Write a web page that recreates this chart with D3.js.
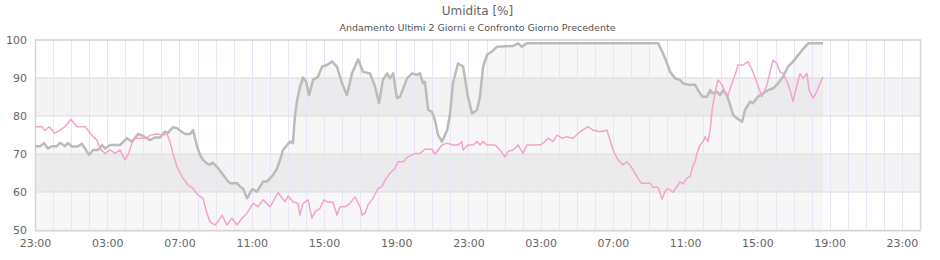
<!DOCTYPE html>
<html>
<head>
<meta charset="utf-8">
<script src="https://cdn.jsdelivr.net/npm/d3@7"></script>
<style>
  body { margin: 0; background: #fff; }
  svg { display: block; font-family: "DejaVu Sans", sans-serif; }
</style>
</head>
<body>
<svg id="chart" width="940" height="260"></svg>
<script>
// Hours since 23:00 of the first day, and humidity values (%)
const currentHours = [0, 0.28, 0.50, 0.72, 0.94, 1.21, 1.39, 1.66, 1.83, 2.05, 2.33, 2.60, 2.77, 2.99, 3.22, 3.49, 3.71, 3.88, 4.16, 4.71, 4.98, 5.09, 5.37, 5.71, 5.98, 6.37, 6.65, 6.92, 7.20, 7.36, 7.64, 7.86, 8.02, 8.31, 8.59, 8.75, 8.97, 9.14, 9.30, 9.52, 9.69, 9.85, 10.14, 10.35, 10.63, 10.80, 11.19, 11.35, 11.52, 11.74, 12.02, 12.29, 12.46, 12.63, 12.84, 13.02, 13.18, 13.40, 13.57, 13.73, 13.96, 14.12, 14.28, 14.39, 14.51, 14.67, 14.84, 15.01, 15.17, 15.40, 15.67, 15.90, 16.17, 16.45, 16.72, 17.00, 17.27, 17.55, 17.89, 18.16, 18.55, 18.83, 19.05, 19.26, 19.49, 19.65, 19.83, 20.04, 20.21, 20.60, 20.88, 21.15, 21.32, 21.48, 21.59, 21.77, 21.98, 22.14, 22.32, 22.53, 22.82, 22.98, 23.14, 23.42, 23.70, 23.97, 24.20, 24.47, 24.64, 24.81, 25.03, 25.31, 25.58, 26.47, 26.75, 26.96, 27.24, 34.50, 34.77, 35.00, 35.16, 35.44, 35.71, 35.88, 36.16, 36.55, 36.71, 36.94, 37.21, 37.38, 37.49, 37.76, 37.93, 38.10, 38.31, 38.49, 38.65, 38.87, 39.15, 39.31, 39.59, 39.75, 40.03, 40.31, 40.59, 40.87, 41.14, 41.42, 41.69, 41.97, 42.19, 42.47, 42.81, 43.63];
const currentValues = [72, 72, 72.8, 71.4, 72, 72, 72.9, 72, 72.8, 71.9, 71.9, 72.6, 71.4, 69.7, 71, 71, 72.3, 71.4, 72.3, 72.3, 73.6, 74.1, 73.2, 75.2, 74.7, 73.6, 74.3, 74.3, 75.8, 75.5, 77, 76.7, 76.1, 75.2, 75.2, 76.2, 72, 69.7, 68.4, 67.5, 67.1, 67.7, 66.2, 64.9, 63.1, 62.3, 62.3, 61.4, 60.9, 58.3, 60.7, 60.1, 61.4, 62.7, 62.7, 63.6, 64.4, 66.2, 68.4, 71, 72.3, 73.2, 72.8, 79.7, 84, 87.6, 90, 89, 85.4, 89.4, 90.2, 92.9, 93.3, 94.2, 92.9, 88.5, 85.4, 91.1, 94.8, 91.5, 91.1, 87.6, 83.3, 89.4, 91.1, 89.8, 91.1, 84.6, 85, 89.8, 91.1, 90.7, 91.1, 88.5, 88.9, 81.5, 81, 78.9, 74.9, 73.2, 76.2, 80.6, 88.5, 93.7, 92.9, 85, 80.6, 81.5, 85, 92.9, 96, 96.9, 98.1, 98.3, 99, 98.1, 99, 99, 96.4, 93.7, 91.5, 89.8, 89.4, 88.5, 88.1, 88.1, 86.7, 85, 85, 86.7, 85.9, 86.3, 85.4, 86.7, 85.4, 82.8, 80.2, 79.3, 78.4, 81.5, 83.7, 83.3, 85, 85.9, 86.7, 87.2, 88.5, 90.2, 92.9, 94.2, 95.5, 97.2, 99, 99];

const previousHours = [0, 0.39, 0.55, 0.78, 1.10, 1.39, 1.66, 1.99, 2.33, 2.77, 3.22, 3.43, 3.60, 3.88, 4.16, 4.43, 4.71, 4.98, 5.15, 5.37, 5.53, 6.20, 6.37, 6.76, 7.09, 7.31, 7.47, 7.64, 7.86, 8.14, 8.47, 8.75, 9.02, 9.30, 9.52, 9.69, 9.96, 10.14, 10.35, 10.63, 10.90, 11.19, 11.46, 11.74, 12.07, 12.34, 12.63, 13.02, 13.46, 13.84, 14.01, 14.28, 14.56, 14.67, 14.84, 15.12, 15.33, 15.51, 15.78, 16.00, 16.22, 16.50, 16.72, 16.89, 17.16, 17.44, 17.72, 18.00, 18.11, 18.27, 18.44, 18.71, 18.99, 19.21, 19.38, 19.65, 19.94, 20.10, 20.38, 20.65, 21.04, 21.32, 21.59, 21.98, 22.14, 22.53, 22.82, 23.14, 23.42, 23.64, 23.70, 23.97, 24.26, 24.47, 24.64, 24.81, 25.03, 25.47, 25.75, 26.02, 26.19, 26.47, 26.75, 27.02, 27.24, 27.96, 28.24, 28.40, 28.68, 28.90, 29.18, 29.45, 29.79, 30.18, 30.62, 30.89, 31.28, 31.67, 31.84, 32.00, 32.28, 32.56, 32.78, 33.06, 33.33, 33.56, 34.06, 34.22, 34.50, 34.72, 34.88, 35.05, 35.32, 35.55, 35.71, 35.88, 36.10, 36.27, 36.44, 36.55, 36.65, 36.82, 36.99, 37.10, 37.26, 37.38, 37.49, 37.65, 37.81, 38.04, 38.20, 38.38, 38.59, 38.76, 38.93, 39.20, 39.48, 39.75, 39.98, 40.25, 40.53, 40.69, 40.87, 41.08, 41.25, 41.42, 41.64, 41.81, 41.97, 42.19, 42.36, 42.52, 42.74, 42.86, 43.08, 43.24, 43.47, 43.63];
const previousValues = [77.1, 77.1, 76.1, 77.1, 75.4, 76.2, 77.1, 79, 77.1, 77.1, 74.5, 73.6, 71.4, 70.1, 71, 70.1, 71, 68.4, 69.7, 72.8, 74.1, 74.1, 74.9, 75.2, 74.9, 75.2, 73.2, 70.1, 66.6, 64, 61.8, 60.9, 59.2, 58.3, 54.4, 52.2, 51.3, 52.2, 53.9, 51.3, 53.1, 51.3, 53.1, 54.4, 57, 56.1, 57.9, 56.1, 59.8, 57.4, 58.9, 57.4, 57, 53.9, 57, 57.9, 53.1, 54.8, 55.7, 57.9, 57.3, 57.3, 53.9, 56.1, 56.1, 57, 58.7, 56.1, 53.9, 54.4, 56.6, 58.3, 60.9, 61.4, 63.1, 64.9, 66.2, 67.9, 67.9, 69.2, 70.1, 70.1, 71.2, 71.2, 69.9, 72.3, 72.8, 72.3, 72.3, 73.2, 71, 72.3, 72.3, 73.2, 72.3, 73.2, 72.3, 72.3, 71, 69.2, 70.6, 71, 72.3, 70.1, 72.3, 72.3, 73.2, 74.1, 73.2, 74.9, 74.1, 74.5, 74.1, 75.8, 77.1, 76.2, 75.8, 76.2, 73.6, 71, 68.4, 67.1, 67.9, 66.2, 64, 62.3, 62.3, 61.2, 61.2, 58.1, 60.1, 60.9, 59.9, 61.4, 62.7, 62.1, 63.6, 64, 67.1, 67.9, 70.1, 72.3, 73.2, 74.5, 73.2, 76.2, 81.5, 85.9, 89.4, 88.1, 86.3, 85.4, 88.5, 90.7, 93.3, 93.3, 94.2, 91.5, 88.5, 85, 88.1, 91.5, 94.6, 93.7, 91.5, 91.1, 88.9, 86.7, 83.7, 88.1, 91.1, 89.8, 91.1, 86.7, 84.6, 85.9, 88.5, 90.2];

const yTicks = [50, 60, 70, 80, 90, 100];
const yBands = [[60, 70], [80, 90]];
const xTickHours = [0, 4, 8, 12, 16, 20, 24, 28, 32, 36, 40, 44, 48];
const titleText = 'Umidita [%]';
const subtitleText = 'Andamento Ultimi 2 Giorni e Confronto Giorno Precedente';

const MARGIN = { top: 39.5, right: 20, bottom: 30, left: 35 };
const W = 940, H = 260;
const plotW = W - MARGIN.left - MARGIN.right;
const plotH = H - MARGIN.top - MARGIN.bottom;

const start = new Date(2024, 0, 1, 23, 0, 0);
const toDate = h => new Date(start.getTime() + h * 3600 * 1000);

// axis runs one hour past the last label
const x = d3.scaleTime().domain([toDate(0), toDate(49)]).range([0, plotW]);
const y = d3.scaleLinear().domain([50, 100]).range([plotH, 0]);

const svg = d3.select('#chart');

svg.append('text')
  .attr('x', MARGIN.left + plotW / 2).attr('y', 15)
  .attr('text-anchor', 'middle')
  .style('font-size', '12px').style('fill', '#666')
  .text(titleText);

svg.append('text')
  .attr('x', MARGIN.left + plotW / 2).attr('y', 31)
  .attr('text-anchor', 'middle')
  .style('font-size', '9.5px').style('fill', '#555')
  .text(subtitleText);

const g = svg.append('g').attr('transform', `translate(${MARGIN.left},${MARGIN.top})`);

// bands
g.selectAll('.band').data(yBands).enter().append('rect')
  .attr('x', 0).attr('width', plotW)
  .attr('y', d => y(d[1])).attr('height', d => y(d[0]) - y(d[1]))
  .attr('fill', '#f3f3f3');

const current = currentHours.map((h, i) => ({ t: toDate(h), v: currentValues[i] }));
const previous = previousHours.map((h, i) => ({ t: toDate(h), v: previousValues[i] }));

// area under the current series
g.append('path')
  .datum(current)
  .attr('fill', 'rgba(0,0,0,0.03)')
  .attr('d', d3.area().x(d => x(d.t)).y0(plotH).y1(d => y(d.v)));

// hourly vertical grid
const hours = d3.range(0, 50);
g.selectAll('.vgrid').data(hours).enter().append('line')
  .attr('x1', d => Math.round(x(toDate(d))) + 0.5).attr('x2', d => Math.round(x(toDate(d))) + 0.5)
  .attr('y1', 0).attr('y2', plotH)
  .attr('stroke', '#e8e6f6').attr('stroke-width', 1);

// horizontal grid
g.selectAll('.hgrid').data(yTicks).enter().append('line')
  .attr('x1', 0).attr('x2', plotW)
  .attr('y1', d => Math.round(y(d)) + 0.5).attr('y2', d => Math.round(y(d)) + 0.5)
  .attr('stroke', '#dcdcdc').attr('stroke-width', 1);

// frame
g.append('rect')
  .attr('x', 0.5).attr('y', 0.5).attr('width', plotW).attr('height', plotH)
  .attr('fill', 'none').attr('stroke', '#d6d6d6').attr('stroke-width', 1.5);

const line = d3.line().x(d => x(d.t)).y(d => y(d.v));

g.append('path').datum(current)
  .attr('fill', 'none').attr('stroke', '#bbbbbb').attr('stroke-width', 2.5)
  .attr('stroke-linejoin', 'round')
  .attr('d', line);

g.append('path').datum(previous)
  .attr('fill', 'none').attr('stroke', '#f3a3cd').attr('stroke-width', 1.5)
  .attr('stroke-linejoin', 'round')
  .attr('d', line);

// y axis labels
const yAxis = g.append('g')
  .call(d3.axisLeft(y).tickValues(yTicks).tickSize(0).tickPadding(8));
yAxis.select('.domain').remove();
yAxis.selectAll('text')
  .style('font-family', '"DejaVu Sans", sans-serif')
  .style('font-size', '11px').style('fill', '#666');

// x axis labels
const fmt = d3.timeFormat('%H:%M');
const xAxis = g.append('g')
  .attr('transform', `translate(0,${plotH})`)
  .call(d3.axisBottom(x).tickValues(xTickHours.map(toDate)).tickFormat(fmt).tickSize(0).tickPadding(9));
xAxis.select('.domain').remove();
xAxis.selectAll('text')
  .style('font-family', '"DejaVu Sans", sans-serif')
  .style('font-size', '11px').style('fill', '#666');
</script>
</body>
</html>
